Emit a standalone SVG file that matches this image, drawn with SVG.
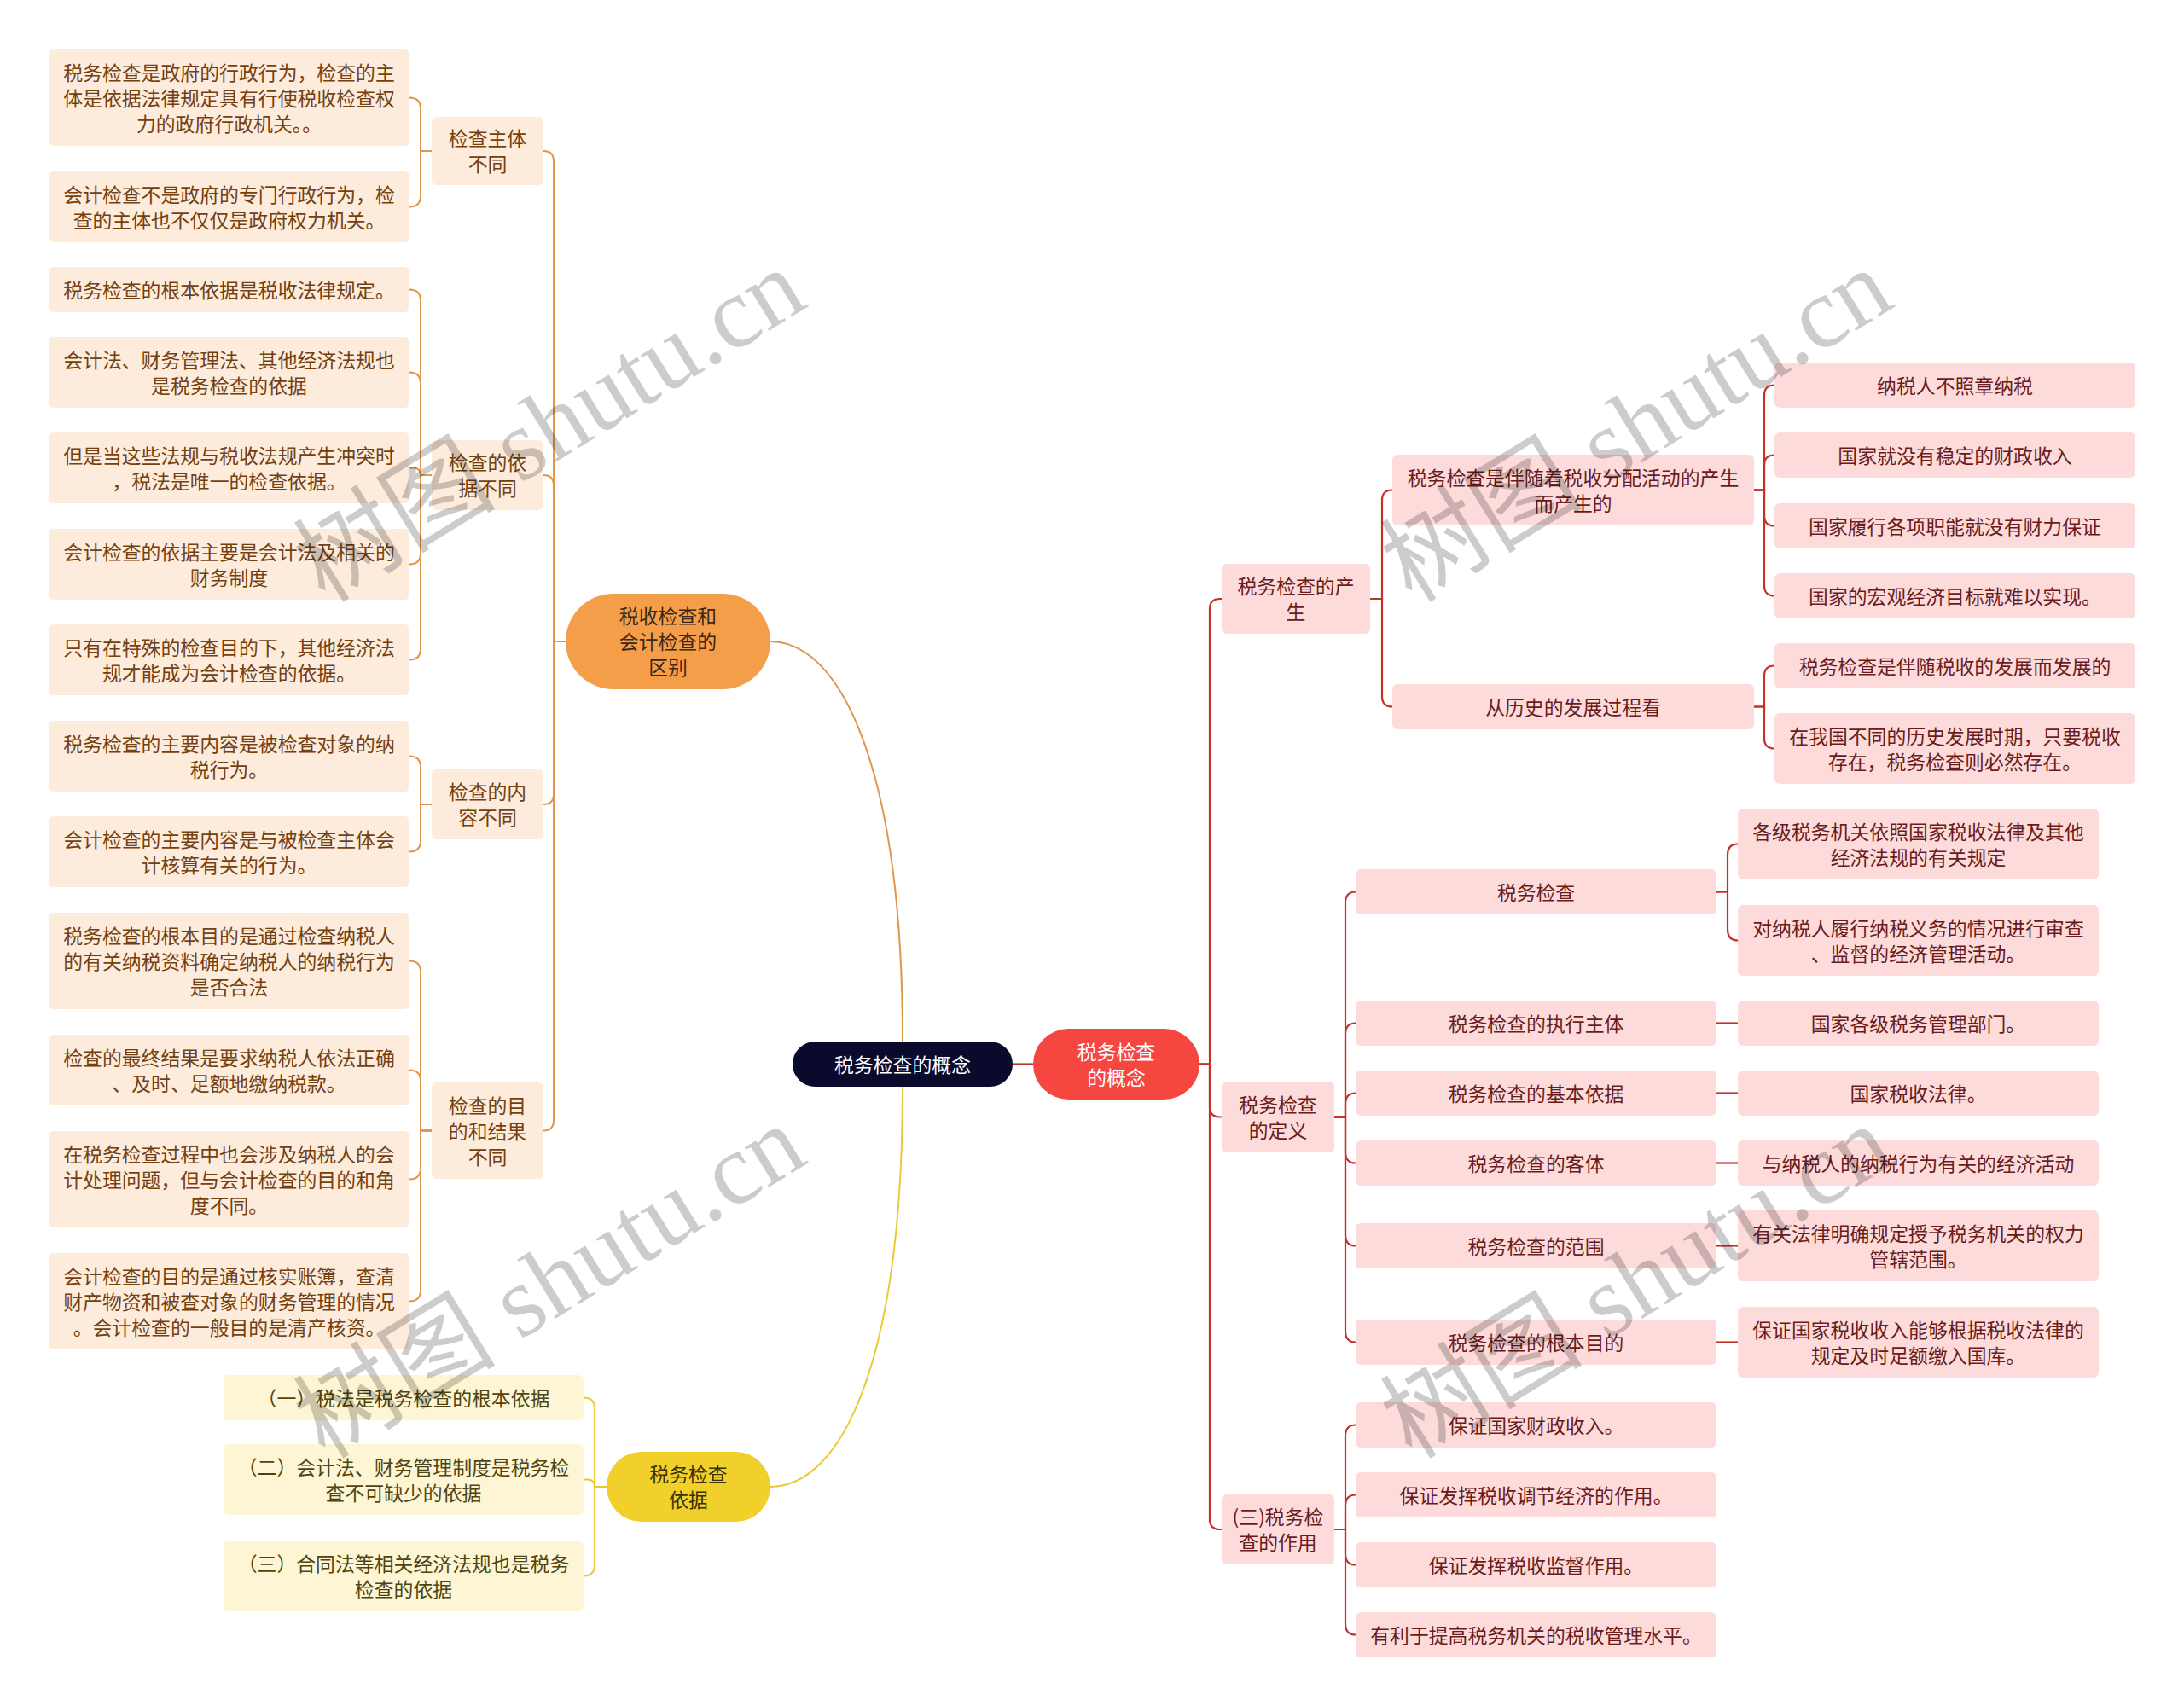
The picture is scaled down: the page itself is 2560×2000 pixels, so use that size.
<svg xmlns="http://www.w3.org/2000/svg" width="2560" height="2000" viewBox="0 0 2560 2000">
<style>
text{font-family:"Noto Sans CJK SC","Noto Sans",sans-serif;font-size:22.86px;text-anchor:middle;dominant-baseline:central}
.po rect{fill:#fdebdc}
.po text{fill:#734010}
.py rect{fill:#fdf5d3}
.py text{fill:#4d4410}
.pr rect{fill:#fddbdb}
.pr text{fill:#6a1c1c}
.cO{fill:none;stroke:#e0964c;stroke-width:2}
.cY{fill:none;stroke:#e9c935;stroke-width:2}
.cR{fill:none;stroke:#c5302b;stroke-width:2.2}
.wm text{font-family:"Liberation Serif","Noto Sans CJK SC",serif;font-size:119px;text-anchor:start;dominant-baseline:auto;fill:#000;fill-opacity:0.2}
</style>
<rect width="2560" height="2000" fill="#ffffff"/>
<g id="connectors">
<path class="cO" d="M903,752 C985,752 1058,900 1058,1221"/>
<path class="cY" d="M903,1743 C985,1743 1058,1600 1058,1274"/>
<path class="cR" d="M1187,1247.5 H1211"/>
<path class="cR" d="M1406,1247.5 H1418 V714 Q1418,702 1430,702 H1432"/>
<path class="cR" d="M1406,1247.5 H1418 V1297.5 Q1418,1309.5 1430,1309.5 H1432"/>
<path class="cR" d="M1406,1247.5 H1418 V1781 Q1418,1793 1430,1793 H1432"/>
<path class="cR" d="M1606,702 H1620 V586.5 Q1620,574.5 1632,574.5"/>
<path class="cR" d="M1606,702 H1620 V816.5 Q1620,828.5 1632,828.5"/>
<path class="cR" d="M2056,574.5 H2068 V463.5 Q2068,451.5 2080,451.5"/>
<path class="cR" d="M2056,574.5 H2068 V545.5 Q2068,533.5 2080,533.5"/>
<path class="cR" d="M2056,574.5 H2068 V604.5 Q2068,616.5 2080,616.5"/>
<path class="cR" d="M2056,574.5 H2068 V686.5 Q2068,698.5 2080,698.5"/>
<path class="cR" d="M2056,828.5 H2068 V792.5 Q2068,780.5 2080,780.5"/>
<path class="cR" d="M2056,828.5 H2068 V865.5 Q2068,877.5 2080,877.5"/>
<path class="cR" d="M1564,1309.5 H1577 V1058.5 Q1577,1045.5 1589,1045.5"/>
<path class="cR" d="M1564,1309.5 H1577 V1212.5 Q1577,1199.5 1589,1199.5"/>
<path class="cR" d="M1564,1309.5 H1577 V1294.5 Q1577,1281.5 1589,1281.5"/>
<path class="cR" d="M1564,1309.5 H1577 V1350.5 Q1577,1363.5 1589,1363.5"/>
<path class="cR" d="M1564,1309.5 H1577 V1447.5 Q1577,1460.5 1589,1460.5"/>
<path class="cR" d="M1564,1309.5 H1577 V1560.5 Q1577,1573.5 1589,1573.5"/>
<path class="cR" d="M2012,1045.5 H2025 V1002.5 Q2025,989.5 2037,989.5"/>
<path class="cR" d="M2012,1045.5 H2025 V1089.5 Q2025,1102.5 2037,1102.5"/>
<path class="cR" d="M2012,1199.5 H2037"/>
<path class="cR" d="M2012,1281.5 H2037"/>
<path class="cR" d="M2012,1363.5 H2037"/>
<path class="cR" d="M2012,1460.5 H2037"/>
<path class="cR" d="M2012,1573.5 H2037"/>
<path class="cR" d="M1564,1793 H1577 V1683.5 Q1577,1670.5 1589,1670.5"/>
<path class="cR" d="M1564,1793 H1577 V1765.5 Q1577,1752.5 1589,1752.5"/>
<path class="cR" d="M1564,1793 H1577 V1821.5 Q1577,1834.5 1589,1834.5"/>
<path class="cR" d="M1564,1793 H1577 V1903.5 Q1577,1916.5 1589,1916.5"/>
<path class="cO" d="M663,752 H649 V189 Q649,177 637,177"/>
<path class="cO" d="M663,752 H649 V569 Q649,557 637,557"/>
<path class="cO" d="M663,752 H649 V931 Q649,943 637,943"/>
<path class="cO" d="M663,752 H649 V1313.5 Q649,1325.5 637,1325.5"/>
<path class="cO" d="M506,177 H493 V127.5 Q493,114.5 480,114.5"/>
<path class="cO" d="M506,177 H493 V229.5 Q493,242.5 480,242.5"/>
<path class="cO" d="M506,557 H493 V352.5 Q493,339.5 480,339.5"/>
<path class="cO" d="M506,557 H493 V449.5 Q493,436.5 480,436.5"/>
<path class="cO" d="M506,557 H493 Q493,548.5 484.5,548.5 H480"/>
<path class="cO" d="M506,557 H493 V648.5 Q493,661.5 480,661.5"/>
<path class="cO" d="M506,557 H493 V760.5 Q493,773.5 480,773.5"/>
<path class="cO" d="M506,943 H493 V899.5 Q493,886.5 480,886.5"/>
<path class="cO" d="M506,943 H493 V985.5 Q493,998.5 480,998.5"/>
<path class="cO" d="M506,1325.5 H493 V1139.5 Q493,1126.5 480,1126.5"/>
<path class="cO" d="M506,1325.5 H493 V1267.5 Q493,1254.5 480,1254.5"/>
<path class="cO" d="M506,1325.5 H493 V1369.5 Q493,1382.5 480,1382.5"/>
<path class="cO" d="M506,1325.5 H493 V1512.5 Q493,1525.5 480,1525.5"/>
<path class="cY" d="M711,1743 H697 V1651.5 Q697,1638.5 684,1638.5"/>
<path class="cY" d="M711,1743 H697 Q697,1734.5 688.5,1734.5 H684"/>
<path class="cY" d="M711,1743 H697 V1834.5 Q697,1847.5 684,1847.5"/>
</g>
<g id="root"><rect x="929" y="1221" width="258" height="53" rx="26.5" fill="#0a0a2d"/><text x="1058" y="1246.5" fill="#ffffff">税务检查的概念</text></g>
<g id="n-red"><rect x="1211" y="1206" width="195" height="83" rx="41.5" fill="#f5473f"/><text x="1308.5" y="1231.5" fill="#ffffff">税务检查</text><text x="1308.5" y="1261.5" fill="#ffffff">的概念</text></g>
<g id="n-orange"><rect x="663" y="696" width="240" height="112" rx="56" fill="#f49e4a"/><text x="783" y="721" fill="#3c2814">税收检查和</text><text x="783" y="751" fill="#3c2814">会计检查的</text><text x="783" y="781" fill="#3c2814">区别</text></g>
<g id="n-yellow"><rect x="711" y="1702" width="192" height="82" rx="41" fill="#f2d02b"/><text x="807" y="1727" fill="#3a3008">税务检查</text><text x="807" y="1757" fill="#3a3008">依据</text></g>
<g class="po">
<g id="o1"><rect x="506" y="137" width="131" height="80" rx="6"/><text x="571.5" y="161">检查主体</text><text x="571.5" y="191">不同</text></g>
<g id="o2"><rect x="506" y="516" width="131" height="82" rx="6"/><text x="571.5" y="541">检查的依</text><text x="571.5" y="571">据不同</text></g>
<g id="o3"><rect x="506" y="902" width="131" height="82" rx="6"/><text x="571.5" y="927">检查的内</text><text x="571.5" y="957">容不同</text></g>
<g id="o4"><rect x="506" y="1269" width="131" height="113" rx="6"/><text x="571.5" y="1294.5">检查的目</text><text x="571.5" y="1324.5">的和结果</text><text x="571.5" y="1354.5">不同</text></g>
<g id="o1a"><rect x="57" y="58" width="423" height="113" rx="6"/><text x="268.5" y="83.5">税务检查是政府的行政行为，检查的主</text><text x="268.5" y="113.5">体是依据法律规定具有行使税收检查权</text><text x="268.5" y="143.5">力的政府行政机关。。</text></g>
<g id="o1b"><rect x="57" y="201" width="423" height="83" rx="6"/><text x="268.5" y="226.5">会计检查不是政府的专门行政行为，检</text><text x="268.5" y="256.5">查的主体也不仅仅是政府权力机关。</text></g>
<g id="o2a"><rect x="57" y="313" width="423" height="53" rx="6"/><text x="268.5" y="338.5">税务检查的根本依据是税收法律规定。</text></g>
<g id="o2b"><rect x="57" y="395" width="423" height="83" rx="6"/><text x="268.5" y="420.5">会计法、财务管理法、其他经济法规也</text><text x="268.5" y="450.5">是税务检查的依据</text></g>
<g id="o2c"><rect x="57" y="507" width="423" height="83" rx="6"/><text x="268.5" y="532.5">但是当这些法规与税收法规产生冲突时</text><text x="268.5" y="562.5">，税法是唯一的检查依据。</text></g>
<g id="o2d"><rect x="57" y="620" width="423" height="83" rx="6"/><text x="268.5" y="645.5">会计检查的依据主要是会计法及相关的</text><text x="268.5" y="675.5">财务制度</text></g>
<g id="o2e"><rect x="57" y="732" width="423" height="83" rx="6"/><text x="268.5" y="757.5">只有在特殊的检查目的下，其他经济法</text><text x="268.5" y="787.5">规才能成为会计检查的依据。</text></g>
<g id="o3a"><rect x="57" y="845" width="423" height="83" rx="6"/><text x="268.5" y="870.5">税务检查的主要内容是被检查对象的纳</text><text x="268.5" y="900.5">税行为。</text></g>
<g id="o3b"><rect x="57" y="957" width="423" height="83" rx="6"/><text x="268.5" y="982.5">会计检查的主要内容是与被检查主体会</text><text x="268.5" y="1012.5">计核算有关的行为。</text></g>
<g id="o4a"><rect x="57" y="1070" width="423" height="113" rx="6"/><text x="268.5" y="1095.5">税务检查的根本目的是通过检查纳税人</text><text x="268.5" y="1125.5">的有关纳税资料确定纳税人的纳税行为</text><text x="268.5" y="1155.5">是否合法</text></g>
<g id="o4b"><rect x="57" y="1213" width="423" height="83" rx="6"/><text x="268.5" y="1238.5">检查的最终结果是要求纳税人依法正确</text><text x="268.5" y="1268.5">、及时、足额地缴纳税款。</text></g>
<g id="o4c"><rect x="57" y="1326" width="423" height="113" rx="6"/><text x="268.5" y="1351.5">在税务检查过程中也会涉及纳税人的会</text><text x="268.5" y="1381.5">计处理问题，但与会计检查的目的和角</text><text x="268.5" y="1411.5">度不同。</text></g>
<g id="o4d"><rect x="57" y="1469" width="423" height="113" rx="6"/><text x="268.5" y="1494.5">会计检查的目的是通过核实账簿，查清</text><text x="268.5" y="1524.5">财产物资和被查对象的财务管理的情况</text><text x="268.5" y="1554.5">。会计检查的一般目的是清产核资。</text></g>
</g>
<g class="py">
<g id="y1"><rect x="262" y="1612" width="422" height="53" rx="6"/><text x="473" y="1637.5">（一）税法是税务检查的根本依据</text></g>
<g id="y2"><rect x="262" y="1693" width="422" height="83" rx="6"/><text x="473" y="1718.5">（二）会计法、财务管理制度是税务检</text><text x="473" y="1748.5">查不可缺少的依据</text></g>
<g id="y3"><rect x="262" y="1806" width="422" height="83" rx="6"/><text x="473" y="1831.5">（三）合同法等相关经济法规也是税务</text><text x="473" y="1861.5">检查的依据</text></g>
</g>
<g class="pr">
<g id="r1"><rect x="1432" y="661" width="174" height="82" rx="6"/><text x="1519" y="686">税务检查的产</text><text x="1519" y="716">生</text></g>
<g id="r1a"><rect x="1632" y="533" width="424" height="83" rx="6"/><text x="1844" y="558.5">税务检查是伴随着税收分配活动的产生</text><text x="1844" y="588.5">而产生的</text></g>
<g id="r1b"><rect x="1632" y="802" width="424" height="53" rx="6"/><text x="1844" y="827.5">从历史的发展过程看</text></g>
<g id="r1a1"><rect x="2080" y="425" width="423" height="53" rx="6"/><text x="2291.5" y="450.5">纳税人不照章纳税</text></g>
<g id="r1a2"><rect x="2080" y="507" width="423" height="53" rx="6"/><text x="2291.5" y="532.5">国家就没有稳定的财政收入</text></g>
<g id="r1a3"><rect x="2080" y="590" width="423" height="53" rx="6"/><text x="2291.5" y="615.5">国家履行各项职能就没有财力保证</text></g>
<g id="r1a4"><rect x="2080" y="672" width="423" height="53" rx="6"/><text x="2291.5" y="697.5">国家的宏观经济目标就难以实现。</text></g>
<g id="r1b1"><rect x="2080" y="754" width="423" height="53" rx="6"/><text x="2291.5" y="779.5">税务检查是伴随税收的发展而发展的</text></g>
<g id="r1b2"><rect x="2080" y="836" width="423" height="83" rx="6"/><text x="2291.5" y="861.5">在我国不同的历史发展时期，只要税收</text><text x="2291.5" y="891.5">存在，税务检查则必然存在。</text></g>
<g id="r2"><rect x="1432" y="1268" width="132" height="83" rx="6"/><text x="1498" y="1293.5">税务检查</text><text x="1498" y="1323.5">的定义</text></g>
<g id="r2a"><rect x="1589" y="1019" width="423" height="53" rx="6"/><text x="1800.5" y="1044.5">税务检查</text></g>
<g id="r2b"><rect x="1589" y="1173" width="423" height="53" rx="6"/><text x="1800.5" y="1198.5">税务检查的执行主体</text></g>
<g id="r2c"><rect x="1589" y="1255" width="423" height="53" rx="6"/><text x="1800.5" y="1280.5">税务检查的基本依据</text></g>
<g id="r2d"><rect x="1589" y="1337" width="423" height="53" rx="6"/><text x="1800.5" y="1362.5">税务检查的客体</text></g>
<g id="r2e"><rect x="1589" y="1434" width="423" height="53" rx="6"/><text x="1800.5" y="1459.5">税务检查的范围</text></g>
<g id="r2f"><rect x="1589" y="1547" width="423" height="53" rx="6"/><text x="1800.5" y="1572.5">税务检查的根本目的</text></g>
<g id="r2a1"><rect x="2037" y="948" width="423" height="83" rx="6"/><text x="2248.5" y="973.5">各级税务机关依照国家税收法律及其他</text><text x="2248.5" y="1003.5">经济法规的有关规定</text></g>
<g id="r2a2"><rect x="2037" y="1061" width="423" height="83" rx="6"/><text x="2248.5" y="1086.5">对纳税人履行纳税义务的情况进行审查</text><text x="2248.5" y="1116.5">、监督的经济管理活动。</text></g>
<g id="r2b1"><rect x="2037" y="1173" width="423" height="53" rx="6"/><text x="2248.5" y="1198.5">国家各级税务管理部门。</text></g>
<g id="r2c1"><rect x="2037" y="1255" width="423" height="53" rx="6"/><text x="2248.5" y="1280.5">国家税收法律。</text></g>
<g id="r2d1"><rect x="2037" y="1337" width="423" height="53" rx="6"/><text x="2248.5" y="1362.5">与纳税人的纳税行为有关的经济活动</text></g>
<g id="r2e1"><rect x="2037" y="1419" width="423" height="83" rx="6"/><text x="2248.5" y="1444.5">有关法律明确规定授予税务机关的权力</text><text x="2248.5" y="1474.5">管辖范围。</text></g>
<g id="r2f1"><rect x="2037" y="1532" width="423" height="83" rx="6"/><text x="2248.5" y="1557.5">保证国家税收收入能够根据税收法律的</text><text x="2248.5" y="1587.5">规定及时足额缴入国库。</text></g>
<g id="r3"><rect x="1432" y="1752" width="132" height="82" rx="6"/><text x="1498" y="1777">(三)税务检</text><text x="1498" y="1807">查的作用</text></g>
<g id="r3a"><rect x="1589" y="1644" width="423" height="53" rx="6"/><text x="1800.5" y="1669.5">保证国家财政收入。</text></g>
<g id="r3b"><rect x="1589" y="1726" width="423" height="53" rx="6"/><text x="1800.5" y="1751.5">保证发挥税收调节经济的作用。</text></g>
<g id="r3c"><rect x="1589" y="1808" width="423" height="53" rx="6"/><text x="1800.5" y="1833.5">保证发挥税收监督作用。</text></g>
<g id="r3d"><rect x="1589" y="1890" width="423" height="53" rx="6"/><text x="1800.5" y="1915.5">有利于提高税务机关的税收管理水平。</text></g>
</g>
<g class="wm" id="watermark">
<text transform="translate(381,708) rotate(-31.6)">树图 shutu.cn</text>
<text transform="translate(381,1712) rotate(-31.6)">树图 shutu.cn</text>
<text transform="translate(1655,708) rotate(-31.6)">树图 shutu.cn</text>
<text transform="translate(1655,1712) rotate(-31.6)">树图 shutu.cn</text>
</g>
</svg>
